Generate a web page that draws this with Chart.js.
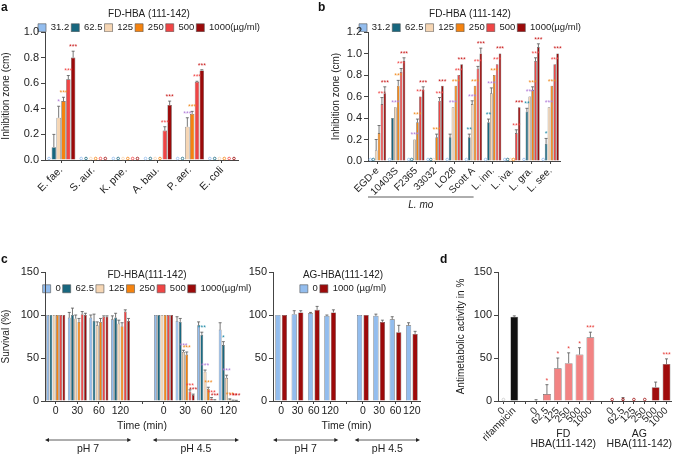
<!DOCTYPE html>
<html>
<head>
<meta charset="utf-8">
<script src="https://cdn.jsdelivr.net/npm/chart.js@4.4.1/dist/chart.umd.min.js"></script>
<style>
body { margin: 0; background: #fff; }
#wrap { position: relative; width: 676px; height: 454px; overflow: hidden; font-family: "Liberation Sans", Arial, sans-serif; }
canvas { position: absolute; }
.tag { position: absolute; font-weight: bold; font-size: 12px; line-height: 12px; color: #111; }
</style>
</head>
<body>
<div id="wrap">
  <canvas id="ca" width="298" height="210" style="left:0;top:0"></canvas>
  <canvas id="cb" width="280" height="215" style="left:330px;top:0"></canvas>
  <canvas id="cc" width="294" height="199" style="left:0;top:255px"></canvas>
  <canvas id="cd" width="196" height="199" style="left:245px;top:255px"></canvas>
  <canvas id="ce" width="221" height="199" style="left:455px;top:255px"></canvas>
  <div class="tag" style="left:1px;top:1px">a</div>
  <div class="tag" style="left:318px;top:1px">b</div>
  <div class="tag" style="left:1px;top:253px">c</div>
  <div class="tag" style="left:440px;top:253px">d</div>
</div>
<script>
// ---- data ----
// a: inhibition zone (cm)
const labelsA = ["E. fae.", "S. aur.", "K. pne.", "A. bau.", "P. aer.", "E. coli"];
const concA = ["31.2", "62.5", "125", "250", "500", "1000(µg/ml)"];
const valsA = [
  [0, 0, 0, 0, 0, 0],
  [0.1, 0, 0, 0, 0, 0],
  [0.33, 0, 0, 0, 0.26, 0],
  [0.46, 0, 0, 0, 0.36, 0],
  [0.63, 0, 0, 0.23, 0.61, 0],
  [0.8, 0, 0, 0.43, 0.7, 0]
];
const errA = [
  [0, 0, 0, 0, 0, 0],
  [0.1, 0, 0, 0, 0, 0],
  [0.09, 0, 0, 0, 0.07, 0],
  [0.03, 0, 0, 0, 0.02, 0],
  [0.03, 0, 0, 0.03, 0.005, 0],
  [0.05, 0, 0, 0.03, 0.005, 0]
];
const starsA = [
  ["", "", "", "", "", ""],
  ["", "", "", "", "", ""],
  ["*", "", "", "", "***", ""],
  ["***", "", "", "", "***", ""],
  ["***", "", "", "***", "***", ""],
  ["***", "", "", "***", "***", ""]
];

// b: Listeria strains
const labelsB = ["EGD-e", "10403S", "F2365", "33032", "LO28", "Scott A", "L. inn.", "L. iva.", "L. gra.", "L. see."];
const concB = ["31.2", "62.5", "125", "250", "500", "1000(µg/ml)"];
const valsB = [
  [0, 0, 0, 0, 0, 0, 0, 0, 0, 0],
  [0, 0.4, 0, 0, 0.22, 0.22, 0.36, 0, 0.46, 0.16],
  [0.1, 0.5, 0.2, 0, 0.5, 0.53, 0.63, 0, 0.6, 0.5],
  [0.26, 0.7, 0.36, 0.22, 0.7, 0.7, 0.8, 0, 0.66, 0.7],
  [0.53, 0.83, 0.6, 0.56, 0.8, 0.86, 0.9, 0.26, 0.93, 0.9],
  [0.63, 0.93, 0.66, 0.7, 0.9, 1.0, 1.0, 0.5, 1.06, 1.0]
];
const errB = [
  [0, 0, 0, 0, 0, 0, 0, 0, 0, 0],
  [0, 0, 0, 0, 0.03, 0.03, 0.03, 0, 0.03, 0.05],
  [0.1, 0, 0, 0, 0, 0.03, 0.05, 0, 0, 0],
  [0.07, 0.05, 0.03, 0.03, 0, 0, 0, 0, 0.03, 0],
  [0.06, 0.03, 0, 0.03, 0, 0.02, 0, 0.03, 0.03, 0],
  [0.06, 0.03, 0.03, 0, 0, 0.05, 0, 0, 0.03, 0]
];
const starsB = [
  ["", "", "", "", "", "", "", "", "", ""],
  ["", "", "", "", "", "**", "**", "", "**", "*"],
  ["", "***", "***", "", "***", "***", "***", "", "***", "***"],
  ["", "***", "***", "***", "***", "***", "***", "", "***", "***"],
  ["***", "***", "***", "***", "***", "***", "***", "***", "***", "***"],
  ["***", "***", "***", "***", "***", "***", "***", "***", "***", "***"]
];

// c: survival (%) over time, pH 7 then pH 4.5
const timeLabels = ["0", "30", "60", "120", "", "0", "30", "60", "120"];
const concC = ["0", "62.5", "125", "250", "500", "1000(µg/ml)"];
const valsC = [
  [100, 97, 97, 95, null, 100, 93, 88, 83],
  [100, 100, 93, 97, null, 100, 92, 77, 65],
  [100, 96, 88, 90, null, 100, 57, 34, 27],
  [100, 92, 92, 87, null, 100, 54, 14, 2],
  [100, 101, 98, 104, null, 100, 11, 3, 0.7],
  [100, 100, 98, 93, null, 100, 7, 1, 0.5]
];
const errC = [
  [0, 6, 3, 4, 0, 0, 5, 4, 8],
  [0, 8, 8, 5, 0, 0, 4, 3, 4],
  [0, 4, 4, 4, 0, 0, 2, 2, 3],
  [0, 4, 4, 4, 0, 0, 3, 2, 0.5],
  [0, 3, 1, 2, 0, 0, 2, 1, 0.3],
  [0, 2, 1, 3, 0, 0, 1, 0.5, 0.3]
];
const starsC = [
  ["", "", "", "", "", "", "", "", ""],
  ["", "", "", "", "", "", "", "***", "*"],
  ["", "", "", "", "", "", "***", "***", "***"],
  ["", "", "", "", "", "", "***", "***", "***"],
  ["", "", "", "", "", "", "***", "***", "***"],
  ["", "", "", "", "", "", "***", "***", "***"]
];
const concAG = ["0", "1000 (µg/ml)"];
const valsAG = [
  [100, 101, 102, 99, null, 100, 99, 95, 88],
  [100, 103, 106, 103, null, 100, 92, 80, 78]
];
const errAG = [
  [0, 4, 1, 1, 0, 0, 2, 3, 3],
  [0, 2, 4, 3, 0, 0, 2, 8, 3]
];

// d: antimetabolic activity in %
const labelsD = ["0", "rifampicin", "", "0", "62.5", "125", "250", "500", "1000", "", "0", "62.5", "125", "250", "500", "1000"];
const valsD = [0, 98, null, 0.5, 8, 38, 44, 54, 74, null, 0, 0, 0, 0, 16, 43];
const errD = [0, 1, 0, 1, 11, 12, 12, 8, 6, 0, 0, 4, 0, 0, 6, 6];
const starsD = ["", "", "", "", "*", "*", "*", "*", "***", "", "", "", "", "", "", "***"];

// ---- styles ----
const concColors = ["#93bdee", "#17677f", "#f6d6b4", "#f5830f", "#f04545", "#9c0a0a"];
const agColors = ["#93bdee", "#9c0a0a"];
const starColors = ["#93bdee", "#1f8aa6", "#b07ad8", "#f08a20", "#f04545", "#c81818"];
const colorsD = ["#cccccc", "#111111", "#fff", "#f28383", "#f28383", "#f28383", "#f28383", "#f28383", "#f28383", "#fff",
  "#a00d0d", "#a00d0d", "#a00d0d", "#a00d0d", "#a00d0d", "#a00d0d"];

Chart.defaults.font.family = '"Liberation Sans", Arial, sans-serif';
Chart.defaults.color = "#222";
Chart.defaults.animation = false;
Chart.defaults.responsive = false;
Chart.defaults.plugins.tooltip.enabled = false;

// error bars, stars and the little extra labels
const extras = {
  id: "extras",
  // let the legend spill into the plot area (panel c) without being clipped
  afterLayout(chart, args, opts) {
    if (opts.legendH && chart.legend) {
      chart.legend.bottom = chart.legend.top + opts.legendH;
      chart.legend.height = opts.legendH;
    }
  },
  afterDatasetsDraw(chart, args, opts) {
    const ctx = chart.ctx;
    const ys = chart.scales.y;
    const xs = chart.scales.x;
    const area = chart.chartArea;
    ctx.save();
    chart.data.datasets.forEach((ds, i) => {
      const meta = chart.getDatasetMeta(i);
      meta.data.forEach((bar, j) => {
        const v = ds.data[j];
        if (v === null || v === undefined) return;
        const errs = opts.single ? opts.err : (opts.err ? opts.err[i] : null);
        const e = errs ? errs[j] : 0;
        const top = ys.getPixelForValue(v + e);
        const col = Array.isArray(ds.backgroundColor) ? ds.backgroundColor[j] : ds.backgroundColor;
        ctx.strokeStyle = "#555";
        ctx.lineWidth = 0.8;
        if (e > 0) {
          ctx.beginPath();
          ctx.moveTo(bar.x, bar.y);
          ctx.lineTo(bar.x, top);
          ctx.moveTo(bar.x - 1.5, top);
          ctx.lineTo(bar.x + 1.5, top);
          ctx.stroke();
        }
        if (v === 0) {
          ctx.strokeStyle = col;
          ctx.beginPath();
          ctx.arc(bar.x, ys.getPixelForValue(0) - 1.5, 1.3, 0, Math.PI * 2);
          ctx.stroke();
        }
        const st = opts.single ? (opts.stars || [])[j] : (opts.stars ? opts.stars[i][j] : "");
        if (st) {
          ctx.fillStyle = opts.single ? "#e8413c" : starColors[i];
          ctx.font = "7px 'Liberation Sans', Arial";
          ctx.textAlign = "center";
          ctx.textBaseline = "bottom";
          ctx.fillText(st, bar.x, top - 0.5);
        }
      });
    });
    ctx.fillStyle = "#222";
    ctx.strokeStyle = "#333";
    ctx.lineWidth = 0.8;
    ctx.textAlign = "center";
    ctx.textBaseline = "middle";
    const half = (xs.getPixelForValue(1) - xs.getPixelForValue(0)) / 2;
    // L. mo underline
    (opts.underline || []).forEach(u => {
      const x1 = xs.getPixelForValue(u.from) - half;
      const x2 = xs.getPixelForValue(u.to);
      const y = area.bottom + u.dy;
      ctx.beginPath();
      ctx.moveTo(x1, y);
      ctx.lineTo(x2, y);
      ctx.stroke();
      ctx.font = "italic 10px 'Liberation Sans', Arial";
      ctx.fillText(u.text, (x1 + x2) / 2, y + 8);
    });
    // pH arrows
    (opts.arrows || []).forEach(a => {
      const x1 = xs.getPixelForValue(a.from) - half;
      const x2 = xs.getPixelForValue(a.to) + half;
      const y = area.bottom + 39;
      ctx.beginPath();
      ctx.moveTo(x1 + 3, y);
      ctx.lineTo(x2 - 3, y);
      ctx.stroke();
      ctx.beginPath();
      ctx.moveTo(x1, y); ctx.lineTo(x1 + 4, y - 2); ctx.lineTo(x1 + 4, y + 2); ctx.closePath();
      ctx.moveTo(x2, y); ctx.lineTo(x2 - 4, y - 2); ctx.lineTo(x2 - 4, y + 2); ctx.closePath();
      ctx.fill();
      ctx.font = "10.5px 'Liberation Sans', Arial";
      ctx.fillText(a.text, (x1 + x2) / 2, y + 9);
    });
    // group names under panel d
    (opts.groups || []).forEach(g => {
      const xc = (xs.getPixelForValue(g.from) + xs.getPixelForValue(g.to)) / 2;
      ctx.font = "10.5px 'Liberation Sans', Arial";
      g.lines.forEach((t, k) => ctx.fillText(t, xc, area.bottom + 33 + k * 10.5));
    });
    ctx.restore();
  }
};
Chart.register(extras);

function yAxis(max, step, width, title, fmt) {
  return {
    min: 0, max: max,
    ticks: { stepSize: step, font: { size: 11 }, padding: 2, callback: fmt },
    grid: { drawOnChartArea: false, tickLength: 4, color: "#444" },
    border: { color: "#444" },
    title: { display: !!title, text: title, font: { size: 10 }, padding: { top: 0, bottom: 2 } },
    afterFit(s) { s.width = width; }
  };
}

function xAxis(height, fontSize, rot, title) {
  return {
    ticks: { font: { size: fontSize }, minRotation: rot, maxRotation: rot, autoSkip: false, padding: 1 },
    grid: { drawOnChartArea: false, offset: false, tickLength: 3, color: "#444" },
    border: { color: "#444" },
    title: { display: !!title, text: title, font: { size: 10.5 }, padding: { top: 2, bottom: 4 } },
    afterFit(s) { s.height = height; }
  };
}

// empty right axis that only keeps room, so the legend centre lands right
function spacer(w) {
  return {
    type: "linear", position: "right", display: true,
    grid: { display: false }, border: { display: false }, ticks: { display: false },
    afterFit(s) { s.width = w; }
  };
}

function legend(title, padTop, maxH) {
  return {
    position: "top",
    maxHeight: maxH,
    title: { display: true, text: title, color: "#222", font: { size: 10 }, padding: { top: padTop, bottom: 0 } },
    labels: { boxWidth: 8, boxHeight: 8, padding: 2, font: { size: 9.5 }, color: "#222" }
  };
}

function makeSets(names, vals, colors, catPct, barPct) {
  return names.map((n, i) => ({
    label: n,
    data: vals[i],
    backgroundColor: colors[i],
    borderColor: "#555",
    borderWidth: 0.6,
    categoryPercentage: catPct,
    barPercentage: barPct
  }));
}

const fmt1 = v => v.toFixed(1);

// a
new Chart(document.getElementById("ca"), {
  type: "bar",
  data: { labels: labelsA, datasets: makeSets(concA, valsA, concColors, 0.9, 0.92) },
  options: {
    layout: { padding: 0 },
    scales: {
      x: xAxis(50, 10.5, 45),
      y: yAxis(1.0, 0.2, 45, "Inhibition zone (cm)", fmt1),
      r: spacer(60)
    },
    plugins: { legend: legend("FD-HBA (111-142)", 9, 32), extras: { err: errA, stars: starsA } }
  }
});

// b
new Chart(document.getElementById("cb"), {
  type: "bar",
  data: { labels: labelsB, datasets: makeSets(concB, valsB, concColors, 0.9, 0.9) },
  options: {
    layout: { padding: 0 },
    scales: {
      x: xAxis(54, 10, 45),
      y: yAxis(1.2, 0.2, 38, "Inhibition zone (cm)", fmt1),
      r: spacer(50)
    },
    plugins: {
      legend: legend("FD-HBA (111-142)", 9, 32),
      extras: { err: errB, stars: starsB, underline: [{ from: 0, to: 5, dy: 36, text: "L. mo" }] }
    }
  }
});

// c left, FD-HBA
new Chart(document.getElementById("cc"), {
  type: "bar",
  data: { labels: timeLabels, datasets: makeSets(concC, valsC, concColors, 0.9, 0.86) },
  options: {
    layout: { padding: { bottom: 18 } },
    scales: {
      x: xAxis(35, 10.5, 0, "Time (min)"),
      y: yAxis(150, 50, 45, "Survival (%)"),
      r: spacer(55)
    },
    plugins: {
      legend: legend("FD-HBA(111-142)", 15, 17),
      extras: { legendH: 45, err: errC, stars: starsC, arrows: [{ from: 0, to: 3, text: "pH 7" }, { from: 5, to: 8, text: "pH 4.5" }] }
    }
  }
});

// c right, AG-HBA
new Chart(document.getElementById("cd"), {
  type: "bar",
  data: { labels: timeLabels, datasets: makeSets(concAG, valsAG, agColors, 0.8, 0.8) },
  options: {
    layout: { padding: { bottom: 18 } },
    scales: {
      x: xAxis(35, 10.5, 0, "Time (min)"),
      y: yAxis(150, 50, 28),
      r: spacer(21)
    },
    plugins: {
      legend: legend("AG-HBA(111-142)", 15, 17),
      extras: { legendH: 45, err: errAG, arrows: [{ from: 0, to: 3, text: "pH 7" }, { from: 5, to: 8, text: "pH 4.5" }] }
    }
  }
});

// d
new Chart(document.getElementById("ce"), {
  type: "bar",
  data: {
    labels: labelsD,
    datasets: [{
      label: "activity",
      data: valsD,
      backgroundColor: colorsD,
      borderColor: "#666",
      borderWidth: 0.6,
      categoryPercentage: 0.8,
      barPercentage: 0.9
    }]
  },
  options: {
    layout: { padding: { top: 17, bottom: 3 } },
    scales: {
      x: xAxis(50, 10, 45),
      y: yAxis(150, 50, 43, "Antimetabolic activity in %")
    },
    plugins: {
      legend: { display: false },
      extras: {
        single: true, err: errD, stars: starsD,
        groups: [{ from: 3, to: 8, lines: ["FD", "HBA(111-142)"] }, { from: 10, to: 15, lines: ["AG", "HBA(111-142)"] }]
      }
    }
  }
});
</script>
</body>
</html>
